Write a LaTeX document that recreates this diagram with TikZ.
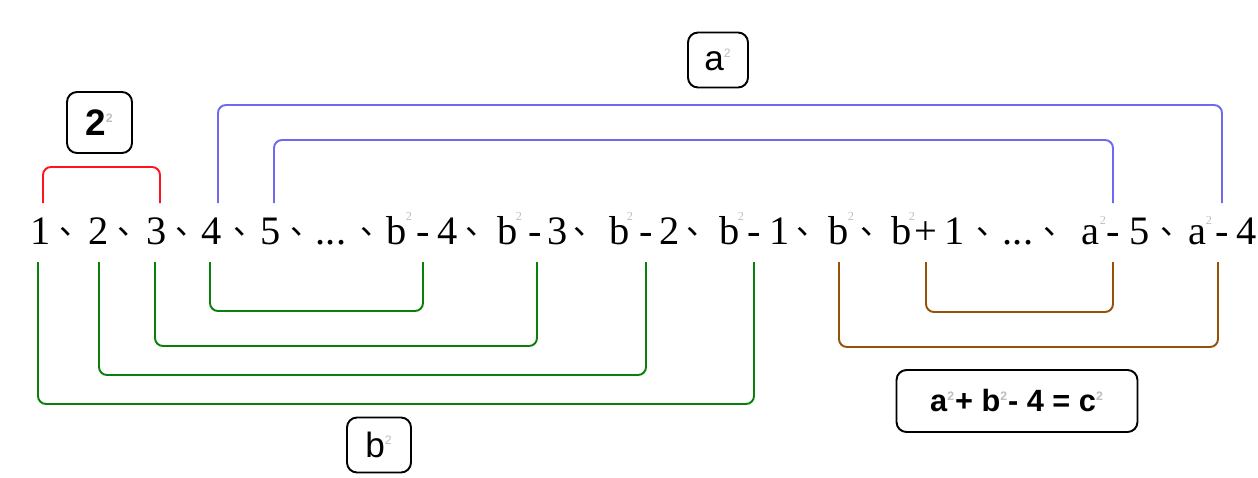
\documentclass[tikz,border=0pt]{standalone}
\usepackage{fontspec}
\setmainfont{Liberation Serif}
\newfontfamily\labelfont{Liberation Sans}
\newfontfamily\cjkfont{Noto Sans CJK SC}
\definecolor{redline}{RGB}{255,20,30}
\definecolor{blueline}{RGB}{112,104,240}
\definecolor{greenline}{RGB}{10,128,10}
\definecolor{brownline}{RGB}{150,80,10}
\definecolor{faint}{RGB}{190,190,190}
% faint small exponent
\newcommand\fsup[1]{\textsuperscript{\color{faint}\fontsize{7}{7}\selectfont #1}}
\tikzset{
  tok/.style={anchor=base, inner sep=0pt, font=\fontsize{23}{23}\selectfont},
  sepmark/.style={anchor=base, inner sep=0pt, font=\cjkfont\fontsize{18}{18}\selectfont},
  expo/.style={inner sep=0pt, font=\fontsize{7}{7}\selectfont, text=faint},
  lbl/.style={draw=black, line width=1.1pt, rounded corners=0.2cm, inner sep=0pt, fill=white},
  bracket/.style={line width=1.1pt, rounded corners=0.16cm},
}
\begin{document}
\begin{tikzpicture}[x=0.02cm, y=-0.02cm]
\useasboundingbox (0,0) rectangle (1258,477);

% ---------- the sequence ----------
\node[tok] (t1) at (41,244) {1};
\node[sepmark] (c1) at (75,234) {、};
\node[tok] (t2) at (99,244) {2};
\node[sepmark] (c2) at (133,234) {、};
\node[tok] (t3) at (157,244) {3};
\node[sepmark] (c3) at (191,234) {、};
\node[tok] (t4) at (212,244) {4};
\node[sepmark] (c4) at (249,234) {、};
\node[tok] (t5) at (271,244) {5};
\node[sepmark] (c5) at (306,234) {、};
\node[tok] (d1) at (331,244) {...};
\node[sepmark] (c6) at (376,234) {、};
\node[tok] (b4) at (397,244) {b};
\node[expo] (e4) at (409,216) {2};
\node[tok] (m4) at (423,244) {-};
\node[tok] (n4) at (448,244) {4};
\node[sepmark] (c7) at (481,234) {、};
\node[tok] (b3) at (508,244) {b};
\node[expo] (e3) at (519,216) {2};
\node[tok] (m3) at (535,244) {-};
\node[tok] (n3) at (558,244) {3};
\node[sepmark] (c8) at (589,234) {、};
\node[tok] (b2) at (620,244) {b};
\node[expo] (e2) at (630,216) {2};
\node[tok] (m2) at (646,244) {-};
\node[tok] (n2) at (670,244) {2};
\node[sepmark] (c9) at (702,234) {、};
\node[tok] (b1) at (730,244) {b};
\node[expo] (e1) at (741,216) {2};
\node[tok] (m1) at (754,244) {-};
\node[tok] (n1) at (780,244) {1};
\node[sepmark] (c10) at (812,234) {、};
\node[tok] (bb) at (839,244) {b};
\node[expo] (eb) at (851,216) {2};
\node[sepmark] (c11) at (876,234) {、};
\node[tok] (bp) at (902,244) {b};
\node[expo] (ep) at (912,216) {2};
\node[tok] (pl) at (926,244) {+};
\node[tok] (np) at (955,244) {1};
\node[sepmark] (c12) at (992,234) {、};
\node[tok] (d2) at (1018,244) {...};
\node[sepmark] (c13) at (1059,234) {、};
\node[tok] (a5) at (1090,244) {a};
\node[expo] (ea5) at (1103,220) {2};
\node[tok] (m5) at (1113,244) {-};
\node[tok] (n5) at (1140,244) {5};
\node[sepmark] (c14) at (1176,234) {、};
\node[tok] (a4) at (1197,244) {a};
\node[expo] (ea4) at (1209,220) {2};
\node[tok] (m6) at (1222,244) {-};
\node[tok] (n6) at (1247,244) {4};

% bracket levels
\coordinate (upend) at (0,203);
\coordinate (redtop) at (0,167);
\coordinate (blueout) at (0,105);
\coordinate (bluein) at (0,140);
\coordinate (lowend) at (0,262);
\coordinate (g1) at (0,311);
\coordinate (g2) at (0,346);
\coordinate (g3) at (0,375);
\coordinate (g4) at (0,404);
\coordinate (r1) at (0,312);
\coordinate (r2) at (0,347);

% ---------- brackets above ----------
\draw[bracket, redline] ([xshift=0.04cm]t1 |- upend) |- ([xshift=0.06cm]t3 |- redtop) -- ([xshift=0.06cm]t3 |- upend);
\draw[bracket, blueline] ([xshift=0.12cm]t4 |- upend) |- (m6 |- blueout) -- (m6 |- upend);
\draw[bracket, blueline] ([xshift=0.06cm]t5 |- upend) |- (m5 |- bluein) -- (m5 |- upend);

% ---------- brackets below ----------
\draw[bracket, greenline] ([xshift=-0.04cm]t4 |- lowend) |- (m4 |- g1) -- (m4 |- lowend);
\draw[bracket, greenline] ([xshift=-0.04cm]t3 |- lowend) |- ([xshift=0.04cm]m3 |- g2) -- ([xshift=0.04cm]m3 |- lowend);
\draw[bracket, greenline] (t2 |- lowend) |- (m2 |- g3) -- (m2 |- lowend);
\draw[bracket, greenline] ([xshift=-0.06cm]t1 |- lowend) |- (m1 |- g4) -- (m1 |- lowend);
\draw[bracket, brownline] (pl |- lowend) |- (m5 |- r1) -- (m5 |- lowend);
\draw[bracket, brownline] (bb |- lowend) |- ([xshift=-0.08cm]m6 |- r2) -- ([xshift=-0.08cm]m6 |- lowend);

% ---------- labels ----------
\node[lbl, minimum width=1.3cm, minimum height=1.22cm,
      font=\labelfont\bfseries\fontsize{21}{21}\selectfont] (lred) at (99.5,122.5) {2\fsup{2}};
\node[lbl, minimum width=1.2cm, minimum height=1.1cm,
      font=\labelfont\fontsize{20}{20}\selectfont] (lblue) at (718,60) {a\fsup{2}};
\node[lbl, minimum width=1.28cm, minimum height=1.1cm,
      font=\labelfont\fontsize{20}{20}\selectfont] (lgreen) at (379,445) {b\fsup{2}};
\node[lbl, minimum width=4.82cm, minimum height=1.24cm,
      font=\labelfont\bfseries\fontsize{17.5}{17.5}\selectfont] (lbrown) at (1017,401)
      {a\fsup{2}+ b\fsup{2}- 4 = c\fsup{2}};
\end{tikzpicture}
\end{document}
